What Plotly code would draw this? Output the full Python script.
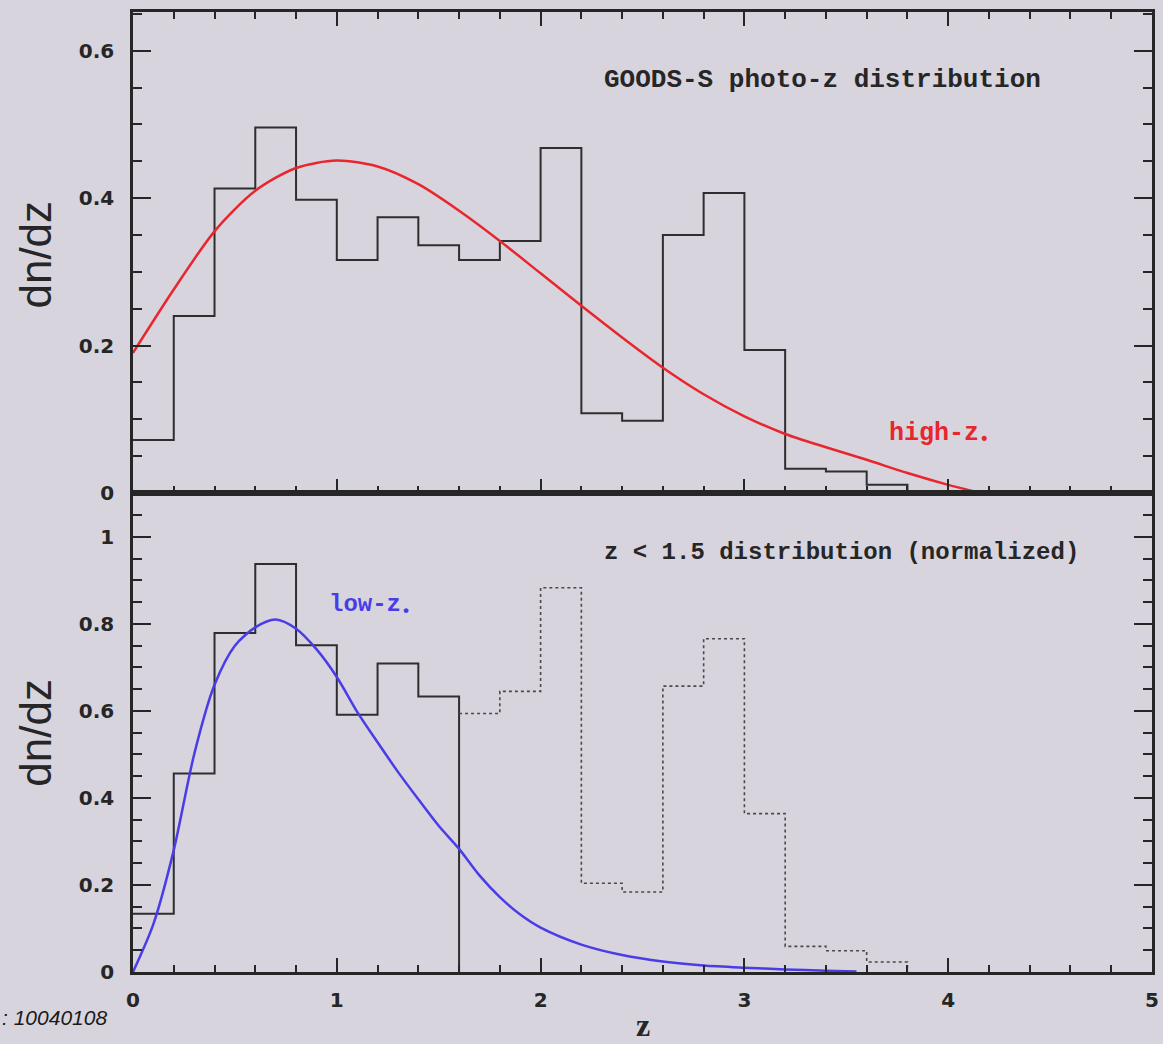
import plotly.graph_objects as go
from plotly.subplots import make_subplots

# Redshift bin edges (width 0.2)
bin_edges = [0.0, 0.2, 0.4, 0.6, 0.8, 1.0, 1.2, 1.4, 1.6, 1.8, 2.0,
             2.2, 2.4, 2.6, 2.8, 3.0, 3.2, 3.4, 3.6, 3.8]

# GOODS-S photo-z histogram, dn/dz per bin (last entry closes the step at 3.8)
photoz_dndz = [0.072, 0.240, 0.413, 0.496, 0.398, 0.316, 0.374, 0.336, 0.316, 0.342,
               0.468, 0.108, 0.098, 0.350, 0.407, 0.194, 0.033, 0.029, 0.011, 0.0]

# z < 1.5 sample, normalized (solid part up to z = 1.6)
lowz_edges = [0.0, 0.2, 0.4, 0.6, 0.8, 1.0, 1.2, 1.4, 1.6]
lowz_dndz = [0.134, 0.456, 0.779, 0.938, 0.751, 0.591, 0.709, 0.633, 0.0]

# Remainder of the normalized distribution beyond z = 1.6 (dotted)
rest_edges = [1.6, 1.8, 2.0, 2.2, 2.4, 2.6, 2.8, 3.0, 3.2, 3.4, 3.6, 3.8]
rest_dndz = [0.594, 0.645, 0.883, 0.204, 0.184, 0.657, 0.766, 0.364, 0.059, 0.049, 0.023, 0.0]

# high-z_* model curve
highz_z = [0.0, 0.2, 0.4, 0.6, 0.8, 1.0, 1.2, 1.4, 1.6, 1.8, 2.0, 2.2, 2.4,
           2.6, 2.8, 3.0, 3.2, 3.4, 3.6, 3.8, 4.0, 4.16]
highz_y = [0.190, 0.276, 0.355, 0.410, 0.441, 0.451, 0.443, 0.419, 0.383, 0.342, 0.298,
           0.254, 0.211, 0.170, 0.134, 0.104, 0.080, 0.062, 0.045, 0.027, 0.011, 0.0]

# low-z_* model curve
lowzc_z = [0.0, 0.1, 0.2, 0.3, 0.4, 0.5, 0.6, 0.7, 0.8, 0.9, 1.0, 1.1, 1.2, 1.3,
           1.4, 1.5, 1.6, 1.7, 1.8, 1.9, 2.0, 2.2, 2.4, 2.6, 2.8, 3.0, 3.2, 3.4, 3.55]
lowzc_y = [0.0, 0.110, 0.280, 0.500, 0.660, 0.750, 0.792, 0.810, 0.789, 0.742, 0.678,
           0.598, 0.528, 0.460, 0.397, 0.336, 0.283, 0.222, 0.172, 0.132, 0.102,
           0.063, 0.039, 0.024, 0.015, 0.010, 0.006, 0.003, 0.001]

BG = "#d7d4de"
INK = "#262626"
HIST = "#2e2e2e"
RED = "#e8262d"
BLUE = "#4a3ce6"

fig = make_subplots(rows=2, cols=1, shared_xaxes=True, vertical_spacing=0.0,
                    row_heights=[0.501, 0.499])

fig.add_trace(go.Scatter(x=bin_edges, y=photoz_dndz, mode="lines", line_shape="hv",
                         line=dict(color=HIST, width=2)), row=1, col=1)
fig.add_trace(go.Scatter(x=highz_z, y=highz_y, mode="lines",
                         line=dict(color=RED, width=2.5, shape="spline", smoothing=0.8)),
              row=1, col=1)

fig.add_trace(go.Scatter(x=lowz_edges, y=lowz_dndz, mode="lines", line_shape="hv",
                         line=dict(color=HIST, width=2)), row=2, col=1)
fig.add_trace(go.Scatter(x=rest_edges, y=rest_dndz, mode="lines", line_shape="hv",
                         line=dict(color="#4a4a4a", width=1.6, dash="dot")), row=2, col=1)
fig.add_trace(go.Scatter(x=lowzc_z, y=lowzc_y, mode="lines",
                         line=dict(color=BLUE, width=2.5, shape="spline", smoothing=0.8)),
              row=2, col=1)

tickfont = dict(family="DejaVu Sans", size=20, color=INK, weight="bold")

common_x = dict(range=[0, 5], showgrid=False, zeroline=False, showline=True,
                linecolor=INK, linewidth=2.5, ticks="inside", tickwidth=2,
                tickcolor=INK, ticklen=14, dtick=1, tick0=0,
                minor=dict(ticks="inside", dtick=0.2, tick0=0, ticklen=7,
                           tickwidth=2, tickcolor=INK, showgrid=False))
fig.update_xaxes(**common_x)
fig.update_xaxes(row=1, col=1, mirror="ticks", showticklabels=False)
fig.update_xaxes(row=2, col=1, mirror=True, showticklabels=True,
                 tickfont=tickfont, ticklabelstandoff=8)

common_y = dict(showgrid=False, zeroline=False, showline=True, linecolor=INK,
                linewidth=2.5, mirror="ticks", ticks="inside", tickwidth=2,
                tickcolor=INK, ticklen=18, dtick=0.2, tick0=0,
                tickfont=tickfont, ticklabelstandoff=12,
                minor=dict(ticks="inside", dtick=0.05, tick0=0, ticklen=9,
                           tickwidth=2, tickcolor=INK, showgrid=False))
fig.update_yaxes(**common_y)
fig.update_yaxes(row=1, col=1, range=[0, 0.6526])
fig.update_yaxes(row=2, col=1, range=[0, 1.101])


def mono(size, color=INK):
    return dict(family="Liberation Mono", size=size, color=color, weight="bold")


annotations = [
    dict(text="GOODS-S photo-z distribution", x=2.30, y=0.561, xref="x", yref="y",
         xanchor="left", yanchor="middle", showarrow=False, font=mono(26)),
    dict(text="high-z<sub>•</sub>", x=3.70, y=0.079, xref="x", yref="y",
         xanchor="left", yanchor="middle", showarrow=False, font=mono(25, RED)),
    dict(text="z < 1.5 distribution (normalized)", x=2.30, y=0.964, xref="x2", yref="y2",
         xanchor="left", yanchor="middle", showarrow=False, font=mono(24)),
    dict(text="low-z<sub>•</sub>", x=0.95, y=0.842, xref="x2", yref="y2",
         xanchor="left", yanchor="middle", showarrow=False, font=mono(24, BLUE)),
    dict(text="dn/dz", x=-0.0955, y=0.747, xref="paper", yref="paper", textangle=-90,
         xanchor="center", yanchor="middle", showarrow=False,
         font=dict(family="Liberation Sans", size=44, color=INK)),
    dict(text="dn/dz", x=-0.0955, y=0.249, xref="paper", yref="paper", textangle=-90,
         xanchor="center", yanchor="middle", showarrow=False,
         font=dict(family="Liberation Sans", size=44, color=INK)),
    dict(text="z", x=0.5, y=-0.0552, xref="paper", yref="paper",
         xanchor="center", yanchor="middle", showarrow=False,
         font=dict(family="Liberation Serif", size=32, color=INK, weight="bold")),
    dict(text=": 10040108", x=-0.1310, y=-0.047, xref="paper", yref="paper",
         xanchor="left", yanchor="middle", showarrow=False,
         font=dict(family="Liberation Sans", size=21, color="#1a1a1a", style="italic")),
]

fig.update_layout(width=1163, height=1044, autosize=False,
                  margin=dict(l=133, r=4, t=12, b=72),
                  paper_bgcolor=BG, plot_bgcolor=BG, showlegend=False,
                  annotations=annotations)

fig.write_html("out.html")
